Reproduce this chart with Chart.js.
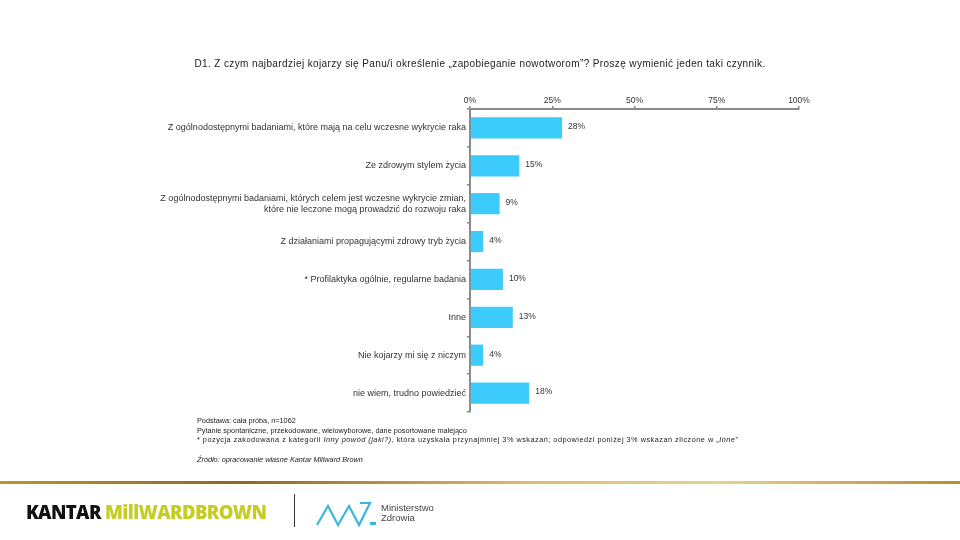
<!DOCTYPE html>
<html>
<head>
<meta charset="utf-8">
<script src="https://cdn.jsdelivr.net/npm/chart.js@4"></script>
<style>
  html, body { margin: 0; padding: 0; background: #fff; }
  #wrap { position: relative; width: 960px; height: 540px; overflow: hidden; font-family: "Liberation Sans", Arial, sans-serif; }
  #chart { position: absolute; left: 0; top: 0; }
  .txt { position: absolute; color: #222; white-space: nowrap; }
  #title { left: 0; width: 960px; top: 58px; text-align: center; font-size: 10px; letter-spacing: 0.38px; }
  #notes { left: 197px; top: 416px; font-size: 7.3px; line-height: 9.6px; }
  #notes .wide { letter-spacing: 0.5px; }
  #source { left: 197px; top: 455px; font-size: 7.3px; font-style: italic; }
  #goldline { position: absolute; left: 0; top: 481px; width: 960px; height: 3px;
    background: linear-gradient(to right, #b8962e, #8a6a1c 25%, #d9bf6a 55%, #e8d38a 75%, #b58e2e 100%); }
  #kantar { position: absolute; left: 26px; top: 499px; font-family: "Open Sans", sans-serif; font-weight: 800; font-size: 18.5px; letter-spacing: -0.6px; }
  #kantar .k { color: #111; }
  #kantar .m { color: #c6cd22; }
  #sep { position: absolute; left: 294px; top: 494px; width: 1px; height: 33px; background: #333; }
  #mz { position: absolute; left: 316px; top: 500px; }
  #mzText { left: 381px; top: 503px; font-size: 9.5px; line-height: 10px; color: #444; }
</style>
</head>
<body>
<div id="wrap">
  <canvas id="chart" width="960" height="540"></canvas>
  <div id="title" class="txt">D1. Z czym najbardziej kojarzy się Panu/i określenie „zapobieganie nowotworom”? Proszę wymienić jeden taki czynnik.</div>
  <div id="notes" class="txt">Podstawa: cała próba, n=1062<br>Pytanie spontaniczne, przekodowane, wielowyborowe, dane posortowane malejąco<br><span class="wide">* pozycja zakodowana z kategorii <i>Inny powód (jaki?)</i>, która uzyskała przynajmniej 3% wskazań; odpowiedzi poniżej 3% wskazań zliczone w „<i>Inne</i>”</span></div>
  <div id="source" class="txt">Źródło: opracowanie własne Kantar Millward Brown</div>
  <div id="goldline"></div>
  <div id="kantar"><span class="k">KANTAR</span> <span class="m">MillWARDBROWN</span></div>
  <div id="sep"></div>
  <svg id="mz" width="62" height="28" viewBox="0 0 62 28">
    <polyline points="1,25 12,6 22,25 33,6 43,25 54,3 44,3" fill="none" stroke="#39b7de" stroke-width="2.2" stroke-linejoin="miter"/>
    <rect x="54" y="22" width="6" height="3" fill="#39b7de"/>
  </svg>
  <div id="mzText" class="txt">Ministerstwo<br>Zdrowia</div>
</div>
<script>
// answer categories (multi-line labels as arrays)
const categories = [
    "Z ogólnodostępnymi badaniami, które mają na celu wczesne wykrycie raka",
    "Ze zdrowym stylem życia",
    ["Z ogólnodostępnymi badaniami, których celem jest wczesne wykrycie zmian,", "które nie leczone mogą prowadzić do rozwoju raka"],
    "Z działaniami propagującymi zdrowy tryb życia",
    "* Profilaktyka ogólnie, regularne badania",
    "Inne",
    "Nie kojarzy mi się z niczym",
    "nie wiem, trudno powiedzieć"
];
const percentValues = [28, 15, 9, 4, 10, 13, 4, 18];
const xTicks = [0, 25, 50, 75, 100];

const barColor = "#3ccbfa";
const axisColor = "#8a8a8a";
const textColor = "#333";

// value labels to the right of each bar
const valueLabels = {
    id: "valueLabels",
    afterDatasetsDraw(chart) {
        const ctx = chart.ctx;
        const meta = chart.getDatasetMeta(0);
        ctx.save();
        ctx.font = "8.5px 'Liberation Sans', Arial, sans-serif";
        ctx.fillStyle = textColor;
        ctx.textAlign = "left";
        ctx.textBaseline = "middle";
        meta.data.forEach((bar, i) => {
            ctx.fillText(percentValues[i] + "%", bar.x + 6, bar.y - 1);
        });
        ctx.restore();
    }
};

const ctx = document.getElementById("chart").getContext("2d");
new Chart(ctx, {
    type: "bar",
    data: {
        labels: categories,
        datasets: [{
            data: percentValues,
            backgroundColor: barColor,
            borderWidth: 0,
            categoryPercentage: 0.56,
            barPercentage: 1
        }]
    },
    options: {
        indexAxis: "y",
        responsive: false,
        animation: false,
        layout: { padding: { left: 0, right: 161, top: 0, bottom: 128 } },
        plugins: { legend: { display: false }, tooltip: { enabled: false } },
        scales: {
            x: {
                position: "top",
                min: 0,
                max: 100,
                afterBuildTicks(scale) {
                    scale.ticks = xTicks.map(v => ({ value: v }));
                },
                afterFit(scale) { scale.height = 109; },
                ticks: {
                    callback: v => v + "%",
                    color: textColor,
                    font: { size: 8.5, family: "'Liberation Sans', Arial, sans-serif" },
                    padding: 0,
                    maxRotation: 0
                },
                grid: { drawOnChartArea: false, drawTicks: true, tickLength: 3, color: axisColor, lineWidth: 1.5 },
                border: { color: axisColor, width: 2 }
            },
            y: {
                afterFit(scale) { scale.width = 470; },
                ticks: {
                    color: textColor,
                    font: { size: 9, family: "'Liberation Sans', Arial, sans-serif", lineHeight: 1.25 },
                    padding: 1
                },
                grid: { drawOnChartArea: false, drawTicks: true, tickLength: 3, color: axisColor, lineWidth: 1.5, offset: true },
                border: { color: axisColor, width: 2 }
            }
        }
    },
    plugins: [valueLabels]
});
</script>
</body>
</html>
